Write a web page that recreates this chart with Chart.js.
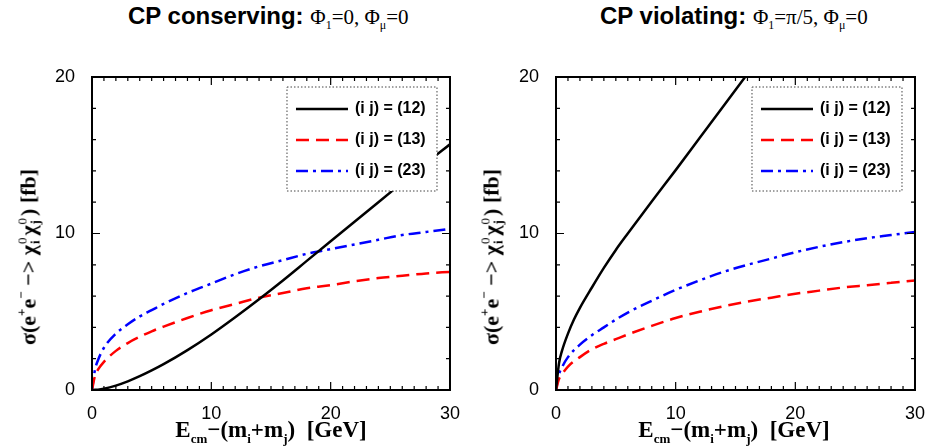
<!DOCTYPE html>
<html>
<head>
<meta charset="utf-8">
<script src="https://cdn.jsdelivr.net/npm/chart.js@4.4.0/dist/chart.umd.min.js"></script>
<style>
  body { margin: 0; background: #fff; width: 930px; height: 446px; position: relative; overflow: hidden; }
  .pane { position: absolute; top: 0; width: 465px; height: 446px; }
  .title { position: absolute; top: 3px; white-space: nowrap; font-size: 24px; line-height: 26px; color: #000; }
  .title b { font-family: "Liberation Sans", Arial, sans-serif; }
  .title .f { font-family: "Liberation Serif", "DejaVu Serif", "Times New Roman", serif; font-size: 21px; }
  .title .s { font-size: 12px; position: relative; top: 5px; }
  .ytitle { position: absolute; top: 257px; font-family: "Liberation Serif", "DejaVu Serif", serif; font-weight: bold;
            font-size: 22px; line-height: 30px; white-space: nowrap;
            transform: translate(-50%, -50%) rotate(-90deg); }
  .xtitle { position: absolute; top: 417px; font-family: "Liberation Serif", "DejaVu Serif", serif; font-weight: bold;
            font-size: 23px; line-height: 26px; white-space: nowrap; transform: translateX(-50%); }
  .sub { font-size: 13px; position: relative; top: 6px; }
  .sup { font-size: 13px; position: relative; top: -10px; }
  .st { display: inline-block; vertical-align: middle; font-size: 13px; line-height: 13px; margin: 0 2px 0 1px; position: relative; top: -2px; }
  .st span { display: block; }
  .st .a { font-weight: normal; }
</style>
</head>
<body>
<div class="title" style="left:128px"><b>CP conserving: </b><span class="f">&Phi;<span class="s">1</span>=0, &Phi;<span class="s">&mu;</span>=0</span></div>
<div class="title" style="left:600px"><b>CP violating: </b><span class="f">&Phi;<span class="s">1</span>=&pi;/5, &Phi;<span class="s">&mu;</span>=0</span></div>

<div class="pane" style="left:0"><canvas id="cpc"></canvas></div>
<div class="pane" style="left:465px"><canvas id="cpv"></canvas></div>

<div class="ytitle" style="left:30px">&sigma;(e<span class="sup">+</span>e<span class="sup">&minus;</span> &minus;&gt; &chi;<span class="st"><span class="a">0</span><span>i</span></span>&chi;<span class="st"><span class="a">0</span><span>j</span></span>) [fb]</div>
<div class="ytitle" style="left:493px">&sigma;(e<span class="sup">+</span>e<span class="sup">&minus;</span> &minus;&gt; &chi;<span class="st"><span class="a">0</span><span>i</span></span>&chi;<span class="st"><span class="a">0</span><span>j</span></span>) [fb]</div>

<div class="xtitle" style="left:271px">E<span class="sub">cm</span>&minus;(m<span class="sub">i</span>+m<span class="sub">j</span>)&nbsp; [GeV]</div>
<div class="xtitle" style="left:734px">E<span class="sub">cm</span>&minus;(m<span class="sub">i</span>+m<span class="sub">j</span>)&nbsp; [GeV]</div>

<script>
// E_cm - (m_i + m_j) in GeV
const energies = [0, 0.25, 0.5, 1, 2, 3, 4, 5, 6, 8, 10, 12, 14, 16, 18, 20, 22, 24, 26, 28, 30];

// CP conserving, cross sections in fb
const cons12 = [0, 0.01, 0.02, 0.08, 0.28, 0.55, 0.88, 1.25, 1.65, 2.55, 3.55, 4.65, 5.8, 7.0, 8.25, 9.5, 10.75, 12.0, 13.25, 14.5, 15.7];
const cons13 = [0, 0.9, 1.3, 1.8, 2.5, 3.0, 3.4, 3.75, 4.05, 4.6, 5.1, 5.5, 5.9, 6.2, 6.5, 6.7, 6.95, 7.15, 7.3, 7.45, 7.55];
const cons23 = [0, 1.3, 1.9, 2.7, 3.6, 4.2, 4.7, 5.1, 5.5, 6.2, 6.8, 7.4, 7.9, 8.3, 8.7, 9.0, 9.3, 9.6, 9.9, 10.1, 10.3];

// CP violating (Phi_1 = pi/5), the (12) curve leaves the frame near 16 GeV
const violEnergies12 = [0, 0.25, 0.5, 1, 1.5, 2, 3, 4, 5, 6, 8, 10, 12, 14, 16];
const viol12 = [0, 1.7, 2.5, 3.6, 4.5, 5.25, 6.55, 7.8, 8.95, 10.0, 12.05, 14.05, 16.1, 18.15, 20.2];
const viol13 = [0, 0.7, 1.0, 1.5, 2.1, 2.6, 2.95, 3.25, 3.55, 4.1, 4.6, 5.0, 5.35, 5.65, 5.9, 6.15, 6.35, 6.55, 6.7, 6.85, 7.0];
const viol23 = [0, 1.0, 1.45, 2.1, 2.9, 3.5, 4.0, 4.5, 4.95, 5.7, 6.4, 7.0, 7.55, 8.0, 8.4, 8.8, 9.15, 9.45, 9.7, 9.9, 10.1];

const seriesLabels = ['(i j) = (12)', '(i j) = (13)', '(i j) = (23)'];
const seriesColors = ['#000000', '#ff0000', '#0000ff'];
const seriesDashes = [[], [13, 7], [12, 5, 3, 5]];

Chart.defaults.font.family = '"Liberation Sans", Arial, sans-serif';
Chart.defaults.color = '#000';

function pts(xs, ys) {
  return xs.map((x, i) => ({ x: x, y: ys[i] }));
}

// inward ticks on all four sides, frame and the dotted legend box
const frameTicks = {
  id: 'frameTicks',
  afterDatasetsDraw(chart) {
    const ctx = chart.ctx;
    const a = chart.chartArea;
    const x = chart.scales.x, y = chart.scales.y;
    ctx.save();
    ctx.strokeStyle = '#000';
    ctx.lineWidth = 1.2;
    ctx.setLineDash([]);
    ctx.beginPath();
    for (let v = 0; v <= 30; v++) {
      const px = x.getPixelForValue(v);
      const len = v % 10 === 0 ? 8 : 4;
      ctx.moveTo(px, a.bottom); ctx.lineTo(px, a.bottom - len);
      ctx.moveTo(px, a.top); ctx.lineTo(px, a.top + len);
    }
    for (let v = 0; v <= 20; v += 2) {
      const py = y.getPixelForValue(v);
      const len = v % 10 === 0 ? 8 : 4;
      ctx.moveTo(a.left, py); ctx.lineTo(a.left + len, py);
      ctx.moveTo(a.right, py); ctx.lineTo(a.right - len, py);
    }
    ctx.stroke();
    ctx.lineWidth = 2;
    ctx.strokeRect(a.left, a.top, a.right - a.left, a.bottom - a.top);

    // legend
    const bw = 150, bh = 104;
    const bx = a.right - 13 - bw, by = a.top + 10;
    ctx.fillStyle = '#fff';
    ctx.fillRect(bx, by, bw, bh);
    ctx.lineWidth = 1;
    ctx.strokeStyle = '#444';
    ctx.setLineDash([1.5, 2]);
    ctx.strokeRect(bx, by, bw, bh);
    ctx.font = 'bold 16px "Liberation Sans", Arial, sans-serif';
    ctx.textBaseline = 'middle';
    seriesLabels.forEach((lab, i) => {
      const ry = by + 22 + i * 31;
      ctx.strokeStyle = seriesColors[i];
      ctx.lineWidth = 2.5;
      ctx.setLineDash(seriesDashes[i]);
      ctx.beginPath();
      ctx.moveTo(bx + 9, ry); ctx.lineTo(bx + 61, ry);
      ctx.stroke();
      ctx.fillStyle = '#000';
      ctx.fillText(lab, bx + 68, ry);
    });
    ctx.restore();
  }
};

function makeChart(id, sets, padRight, yWidth) {
  return new Chart(document.getElementById(id), {
    type: 'line',
    data: {
      datasets: sets.map((d, i) => ({
        label: seriesLabels[i],
        data: d,
        borderColor: seriesColors[i],
        borderDash: seriesDashes[i],
        borderWidth: 2.5,
        pointRadius: 0,
        cubicInterpolationMode: 'monotone',
        fill: false
      }))
    },
    options: {
      responsive: true,
      maintainAspectRatio: false,
      animation: false,
      layout: { padding: { left: 0, right: padRight, top: 77, bottom: 0 } },
      plugins: { legend: { display: false }, tooltip: { enabled: false } },
      scales: {
        x: {
          type: 'linear', min: 0, max: 30,
          grid: { display: false }, border: { display: false },
          ticks: { stepSize: 10, padding: 5, maxRotation: 0, font: { size: 18 } },
          afterFit: s => { s.height = 56; }
        },
        y: {
          type: 'linear', min: 0, max: 20,
          grid: { display: false }, border: { display: false },
          ticks: { stepSize: 10, padding: 9, font: { size: 18 } },
          afterFit: s => { s.width = yWidth; }
        }
      }
    },
    plugins: [frameTicks]
  });
}

makeChart('cpc', [pts(energies, cons12), pts(energies, cons13), pts(energies, cons23)], 10, 92);
makeChart('cpv', [pts(violEnergies12, viol12), pts(energies, viol13), pts(energies, viol23)], 12, 91);
</script>
</body>
</html>
